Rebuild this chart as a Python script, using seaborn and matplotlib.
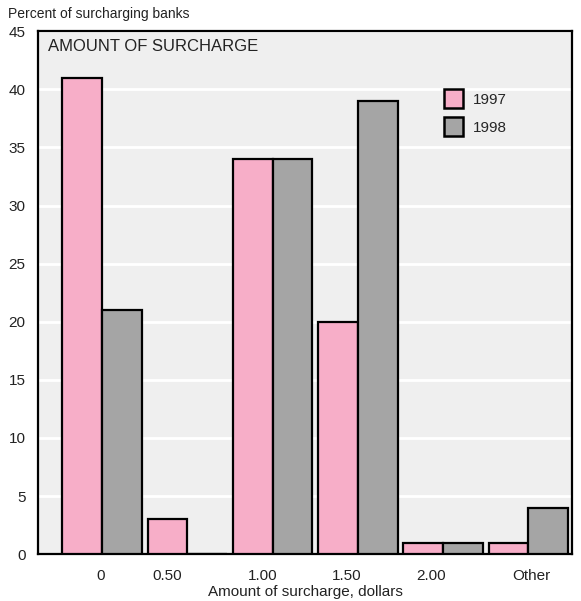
import matplotlib
matplotlib.use("Agg")
import matplotlib.pyplot as plt
import seaborn as sns
import pandas as pd
from matplotlib.patches import Patch

categories = ["0", "0.50", "1.00", "1.50", "2.00", "Other"]
years = ["1997", "1998"]
pct_1997 = [41, 3, 34, 20, 1, 1]
pct_1998 = [21, 0, 34, 39, 1, 4]
y_ticks = [0, 5, 10, 15, 20, 25, 30, 35, 40, 45]

colors = {"1997": "#f7aec8", "1998": "#a5a5a5"}

df = pd.DataFrame({
    "amount": categories * 2,
    "pct": pct_1997 + pct_1998,
    "year": ["1997"] * len(categories) + ["1998"] * len(categories),
})

sns.set_theme(style="white")
plt.rcParams["font.family"] = ["Liberation Sans", "DejaVu Sans"]

fig = plt.figure(figsize=(5.81, 6.01), dpi=100)
ax = fig.add_axes([0.0654, 0.078, 0.919, 0.870])
ax.set_facecolor("#efefef")

sns.barplot(data=df, x="amount", y="pct", hue="year", order=categories,
            hue_order=years, palette=colors, saturation=1, width=0.93,
            edgecolor="black", linewidth=1.6, ax=ax, legend=False, zorder=3)

ax.set_ylim(0, 45)
ax.set_xlim(-0.75, 5.51)
ax.set_yticks(y_ticks)
ax.set_yticklabels([str(v) for v in y_ticks], fontsize=11)
ax.yaxis.grid(True, color="white", linewidth=2.0, zorder=0)
ax.set_axisbelow(True)
ax.tick_params(axis="y", direction="in", length=12, width=1.6, pad=9, color="black",
               labelcolor="#222222")

# category labels sit slightly left of each group's centre
label_pos = [-0.02, 0.77, 1.88, 2.87, 3.86, 5.03]
ax.set_xticks(label_pos)
ax.set_xticklabels(categories, fontsize=11)
ax.tick_params(axis="x", length=0, pad=11, labelcolor="#222222")

for s in ax.spines.values():
    s.set_visible(True)
    s.set_color("black")
    s.set_linewidth(1.6)

ax.set_xlabel("Amount of surcharge, dollars", fontsize=11, labelpad=1, color="#222222")
ax.set_ylabel("")
fig.text(0.013, 0.977, "Percent of surcharging banks", fontsize=10, ha="left",
         va="center", color="#222222")
ax.text(0.018, 0.985, "AMOUNT OF SURCHARGE", transform=ax.transAxes,
        fontsize=12, ha="left", va="top", color="#222222")

handles = [Patch(facecolor=colors[y], edgecolor="black", linewidth=1.8) for y in years]
ax.legend(handles, years, loc="upper left", bbox_to_anchor=(0.735, 0.915),
          frameon=False, fontsize=11, handlelength=1.2, handleheight=1.5,
          handletextpad=0.7, labelspacing=0.6)

fig.savefig("out.png", dpi=100)
